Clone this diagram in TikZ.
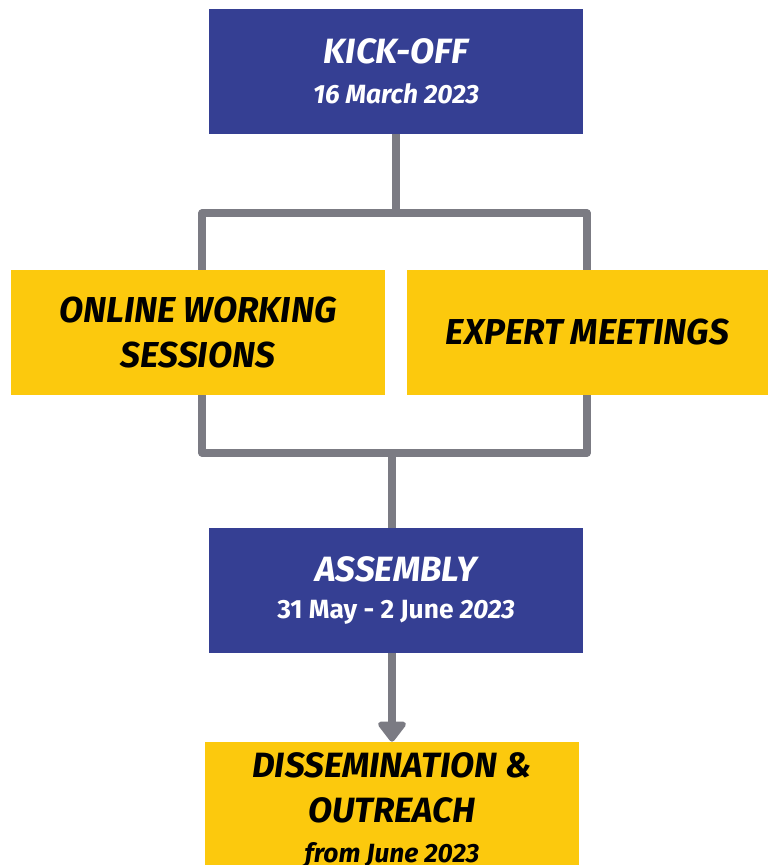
\documentclass[tikz,border=0pt]{standalone}
\usepackage{fontspec}
\setmainfont{Fira Sans}
\newfontfamily\condfont[FakeStretch=0.98]{Fira Sans}
\usetikzlibrary{arrows.meta}
\definecolor{kickblue}{HTML}{353F93}
\definecolor{phaseyellow}{HTML}{FCC90D}
\definecolor{linkgray}{HTML}{7B7B83}

\begin{document}
\begin{tikzpicture}[x=0.02cm,y=-0.02cm,
    bluebox/.style={fill=kickblue,text=white,minimum width=7.48cm,minimum height=2.5cm,
      align=center,inner sep=0pt,font=\bfseries\itshape\fontsize{20}{22}\selectfont},
    yellowbox/.style={fill=phaseyellow,text=black,minimum height=2.5cm,align=center,
      inner sep=0pt,font=\condfont\bfseries\itshape\fontsize{20.5}{25.5}\selectfont},
    link/.style={linkgray,line width=4pt,line join=round}]
  \useasboundingbox (0,0) rectangle (768,865);
  % boxes
  \node[bluebox] (kickoff) at (396,71.5) {KICK-OFF\\[1pt]{\fontsize{15}{17}\selectfont 16 March 2023}};
  \node[yellowbox,minimum width=7.48cm] (online) at (198,332.5) {ONLINE WORKING\\SESSIONS};
  \node[yellowbox,minimum width=7.22cm] (expert) at (587.5,332.5) {EXPERT MEETINGS};
  \node[bluebox] (assembly) at (396,590.5) {ASSEMBLY\\[-1pt]{\fontsize{15}{17}\selectfont\upshape 31 May - 2 June \itshape 2023}};
  \node[yellowbox,minimum width=7.48cm,minimum height=2.74cm,
    font=\bfseries\itshape\fontsize{20}{25.5}\selectfont] (dissem) at (392,810.5)
    {DISSEMINATION \&\\OUTREACH\\[-3pt]{\fontsize{15}{17}\selectfont from June 2023}};
  % connectors
  \coordinate (tl) at (202,213);
  \coordinate (tr) at (587,213);
  \coordinate (bl) at (202,453);
  \coordinate (br) at (587,453);
  \coordinate (merge) at (392,453);
  \draw[link] (kickoff) -- (kickoff |- tl);
  \draw[link] (online.north -| tl) |- (tr) -- (tr |- expert.north);
  \draw[link] (online.south -| bl) |- (br) -- (br |- expert.south);
  \draw[link] (merge) -- (merge |- assembly.north);
  \draw[link,-{Triangle[width=0.64cm,length=0.44cm,round]}] (assembly.south -| dissem) -- (dissem.north);
\end{tikzpicture}
\end{document}
